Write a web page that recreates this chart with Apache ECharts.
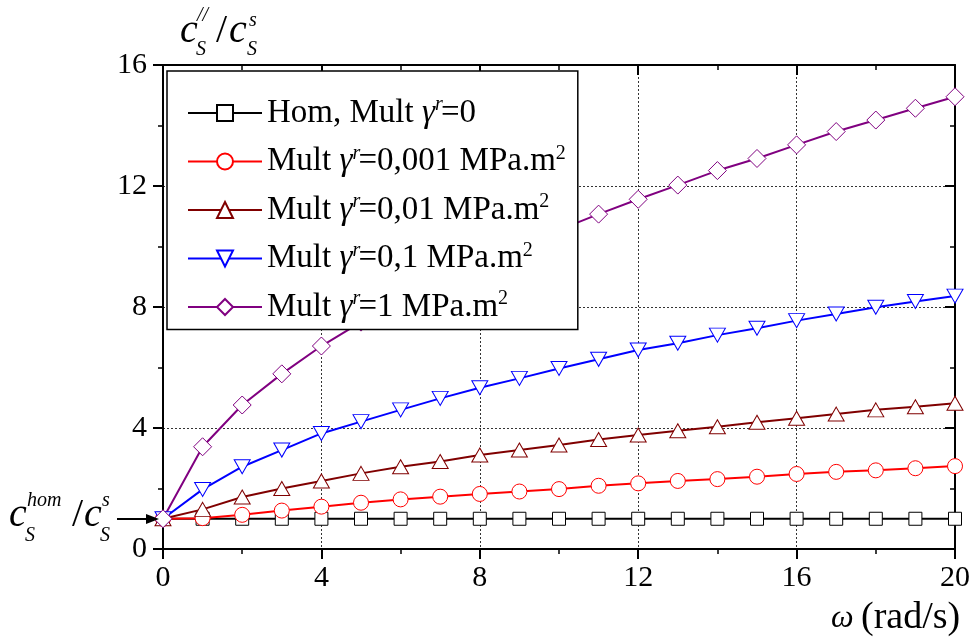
<!DOCTYPE html>
<html><head><meta charset="utf-8">
<script src="https://cdn.jsdelivr.net/npm/echarts@6/dist/echarts.min.js"></script>
<style>html,body{margin:0;padding:0;background:#fff}#c{width:970px;height:637px}</style>
</head><body><div id="c"></div>
<script>
// ---- data ----
const omega = [0,1,2,3,4,5,6,7,8,9,10,11,12,13,14,15,16,17,18,19,20];
const xTicks = [0,4,8,12,16,20];
const yTicks = [0,4,8,12,16];
const homMult0 = [1,1,1,1,1,1,1,1,1,1,1,1,1,1,1,1,1,1,1,1,1];
const mult0001 = [1,1.02,1.13,1.27,1.40,1.53,1.64,1.73,1.82,1.90,1.98,2.09,2.17,2.25,2.31,2.39,2.48,2.55,2.60,2.67,2.74];
const mult001  = [1,1.31,1.72,2.00,2.25,2.50,2.72,2.89,3.11,3.27,3.44,3.62,3.77,3.91,4.04,4.19,4.32,4.46,4.60,4.70,4.82];
const mult01   = [1,1.97,2.72,3.27,3.82,4.21,4.60,4.98,5.33,5.64,5.97,6.27,6.58,6.80,7.07,7.30,7.55,7.77,7.99,8.18,8.36];
const mult1    = [1,3.38,4.76,5.79,6.71,7.50,8.18,8.82,9.43,10.00,10.55,11.07,11.56,12.03,12.51,12.91,13.36,13.80,14.18,14.57,14.95];
const seriesNames = ['hom','m0001','m001','m01','m1'];
const legendLabels = {
  hom:   '{t|Hom, Mult }{g|γ}{s|r}{t|=0}',
  m0001: '{t|Mult }{g|γ}{s|r}{t|=0,001 MPa.m}{p|2}',
  m001:  '{t|Mult }{g|γ}{s|r}{t|=0,01 MPa.m}{p|2}',
  m01:   '{t|Mult }{g|γ}{s|r}{t|=0,1 MPa.m}{p|2}',
  m1:    '{t|Mult }{g|γ}{s|r}{t|=1 MPa.m}{p|2}'
};

const FONT = 'Liberation Serif';
const chart = echarts.init(document.getElementById('c'), null, {renderer:'canvas'});

function mkSeries(name, vals, color, symbol, size, rotate){
  return {
    name: name, type: 'line',
    data: omega.map((x,i)=>[x, vals[i]]),
    symbol: symbol, symbolSize: size, symbolRotate: rotate || 0,
    showAllSymbol: true,
    lineStyle: {color: color, width: 2},
    itemStyle: {color: '#fff', borderColor: color, borderWidth: 1},
    emphasis: {disabled: true},
    animation: false
  };
}

const axisCommon = {
  type: 'value',
  axisLine: {show: true, onZero: false, lineStyle: {color: '#000', width: 2}},
  axisTick: {show: true, length: 10, lineStyle: {color: '#000', width: 2}},
  minorTick: {show: true, splitNumber: 2, length: 5, lineStyle: {color: '#000', width: 1.5}},
  splitLine: {show: false},
  minorSplitLine: {show: false}
};

function text(x, y, str, size, italic, align){
  return {type:'text', x:x, y:y, silent:true, z:100,
    style:{text:str, font:(italic?'italic ':'') + size + 'px "' + FONT + '"', fill:'#000',
      textAlign: align || 'left', textVerticalAlign:'middle'}};
}

const option = {
  backgroundColor: '#fff',
  animation: false,
  grid: {left: 163, right: 15, top: 65, bottom: 88, containLabel: false, outerBoundsMode: 'none'},
  xAxis: [
    Object.assign({}, axisCommon, {
      min: 0, max: 20, interval: 4, position: 'bottom',
      axisLabel: {color:'#000', fontFamily: FONT, fontSize: 30, margin: 14},
      splitLine: {show: true, lineStyle: {color: '#333', width: 1, type: [2,2]}}
    }),
    Object.assign({}, axisCommon, {
      min: 0, max: 20, interval: 4, position: 'top',
      axisTick: {show: true, inside: true, length: 10, lineStyle: {color:'#000', width: 2}},
      axisLabel: {show: false}
    })
  ],
  yAxis: [
    Object.assign({}, axisCommon, {
      min: 0, max: 16, interval: 4, position: 'left',
      axisLabel: {color:'#000', fontFamily: FONT, fontSize: 30, margin: 16},
      splitLine: {show: true, lineStyle: {color: '#333', width: 1, type: [2,2]}}
    }),
    Object.assign({}, axisCommon, {
      min: 0, max: 16, interval: 4, position: 'right',
      axisTick: {show: true, inside: true, length: 10, lineStyle: {color:'#000', width: 2}},
      axisLabel: {show: false}
    })
  ],
  legend: {
    data: seriesNames,
    orient: 'vertical', left: 167, top: 71,
    padding: [24, 12, 6, 20],
    itemGap: 14, itemWidth: 74, itemHeight: 20,
    backgroundColor: '#fff', borderColor: '#000', borderWidth: 1.5, borderRadius: 0,
    selectedMode: false,
    formatter: n => legendLabels[n],
    textStyle: {
      color: '#000', fontFamily: FONT, fontSize: 33,
      rich: {
        t: {fontFamily: FONT, fontSize: 33, lineHeight: 36, color:'#000'},
        g: {fontFamily: FONT, fontSize: 33, lineHeight: 36, fontStyle: 'italic', color:'#000'},
        s: {fontFamily: FONT, fontSize: 20, lineHeight: 16, fontStyle: 'italic', verticalAlign: 'top', width: 6, color:'#000'},
        p: {fontFamily: FONT, fontSize: 20, lineHeight: 16, verticalAlign: 'top', color:'#000'}
      }
    }
  },
  series: [
    mkSeries('hom',   homMult0, '#000000', 'rect', 13),
    mkSeries('m0001', mult0001, '#ff0000', 'circle', 15),
    mkSeries('m001',  mult001,  '#800000', 'triangle', [16,14]),
    mkSeries('m01',   mult01,   '#0000ff', 'triangle', [16,14], 180),
    mkSeries('m1',    mult1,    '#800080', 'diamond', 18)
  ],
  graphic: [
    // y-axis title  c_S^// / c_S^s
    text(180, 31, 'c', 40, true),
    text(197, 16, '//', 20, true),
    text(196, 50, 'S', 20, true),
    text(216, 31, '/', 40, false),
    text(229, 31, 'c', 40, true),
    text(249, 21, 's', 20, true),
    text(247, 50, 'S', 20, true),
    // reference value annotation c_S^hom / c_S^s
    text(9, 515, 'c', 40, true),
    text(27, 501, 'hom', 20, true),
    text(25, 536, 'S', 20, true),
    text(72, 515, '/', 40, false),
    text(84, 515, 'c', 40, true),
    text(102, 501, 's', 20, true),
    text(100, 536, 'S', 20, true),
    {type:'line', silent:true, z:100, shape:{x1:117, y1:519, x2:150, y2:519}, style:{stroke:'#000', lineWidth:2}},
    {type:'polygon', silent:true, z:100, shape:{points:[[146,514],[159,519],[146,524]]}, style:{fill:'#000'}},
    // x-axis title
    text(831, 619, 'ω', 32, true),
    text(861, 618, '(rad/s)', 38, false)
  ]
};
chart.setOption(option);
</script>
</body></html>
